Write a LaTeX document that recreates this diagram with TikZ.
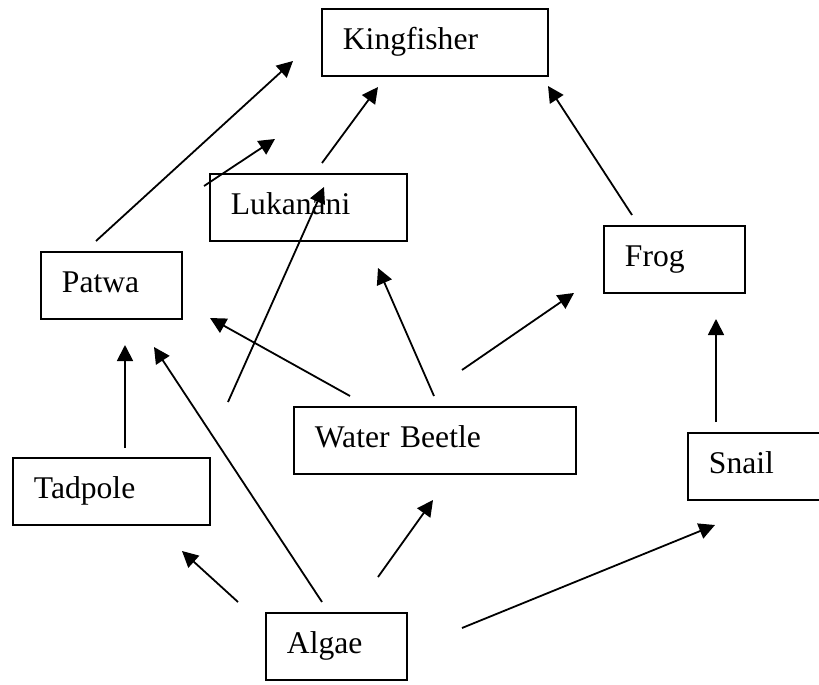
\documentclass[tikz,border=0pt]{standalone}
\usepackage{fontspec}
\setmainfont{Liberation Serif}
\usetikzlibrary{positioning,arrows.meta}

\begin{document}
\begin{tikzpicture}[x=0.75pt,y=-0.75pt,
  box/.style={draw,rectangle,anchor=north west,align=left,line width=1.4pt,
    inner xsep=15.75pt,inner ysep=12.75pt,text height=18pt,text depth=6.75pt,
    font=\fontsize{23.7}{28}\selectfont},
  eats/.style={-{Triangle[length=12pt,width=12pt]},line width=1.35pt}]
\clip (0,0) rectangle (819,685);
\node[box,text width=138pt] (kingfisher) at (321,8) {Kingfisher};
\node[box,text width=116.25pt] (lukanani) at (209,173) {Lukanani};
\node[box,text width=74.25pt] (patwa) at (40,251) {Patwa};
\node[box,text width=74.25pt] (frog) at (603,225) {Frog};
\node[box,text width=180pt] (beetle) at (293,406) {Water Beetle};
\node[box,text width=116.25pt] (tadpole) at (12,457) {Tadpole};
\node[box,text width=74.25pt] (snail) at (687,432) {Snail};
\node[box,text width=74.25pt] (algae) at (265,612) {Algae};
% free ends of the arrows
\coordinate (patwa-up) at (96,241);   \coordinate (king-sw) at (293,61);
\coordinate (luk-nw) at (204,186);    \coordinate (king-w) at (275,139);
\coordinate (luk-up) at (322,163);    \coordinate (king-s) at (378,87);
\coordinate (frog-up) at (632,215);   \coordinate (king-se) at (548,86);
\coordinate (beetle-n) at (434,396);  \coordinate (luk-s) at (378,268);
\coordinate (beetle-ne) at (462,370); \coordinate (frog-sw) at (574,293);
\coordinate (beetle-nw) at (350,396); \coordinate (patwa-se) at (210,318);
\coordinate (tad-ne) at (228,402);    \coordinate (luk-in) at (324,187);
\coordinate (tad-up) at (125,448);    \coordinate (patwa-s) at (125,345);
\coordinate (algae-nw) at (322,602);  \coordinate (patwa-s2) at (154,347);
\coordinate (algae-w) at (238,602);   \coordinate (tad-se) at (182,551);
\coordinate (algae-n) at (378,577);   \coordinate (beetle-s) at (433,500);
\coordinate (algae-e) at (462,628);   \coordinate (snail-sw) at (715,525);
\coordinate (snail-up) at (716,422);  \coordinate (frog-s) at (716,319);
\draw[eats] (patwa-up) -- (king-sw);
\draw[eats] (luk-nw) -- (king-w);
\draw[eats] (luk-up) -- (king-s);
\draw[eats] (frog-up) -- (king-se);
\draw[eats] (beetle-n) -- (luk-s);
\draw[eats] (beetle-ne) -- (frog-sw);
\draw[eats] (beetle-nw) -- (patwa-se);
\draw[eats] (tad-ne) -- (luk-in);
\draw[eats] (tad-up) -- (patwa-s);
\draw[eats] (algae-nw) -- (patwa-s2);
\draw[eats] (algae-w) -- (tad-se);
\draw[eats] (algae-n) -- (beetle-s);
\draw[eats] (algae-e) -- (snail-sw);
\draw[eats] (snail-up) -- (frog-s);
\end{tikzpicture}
\end{document}
